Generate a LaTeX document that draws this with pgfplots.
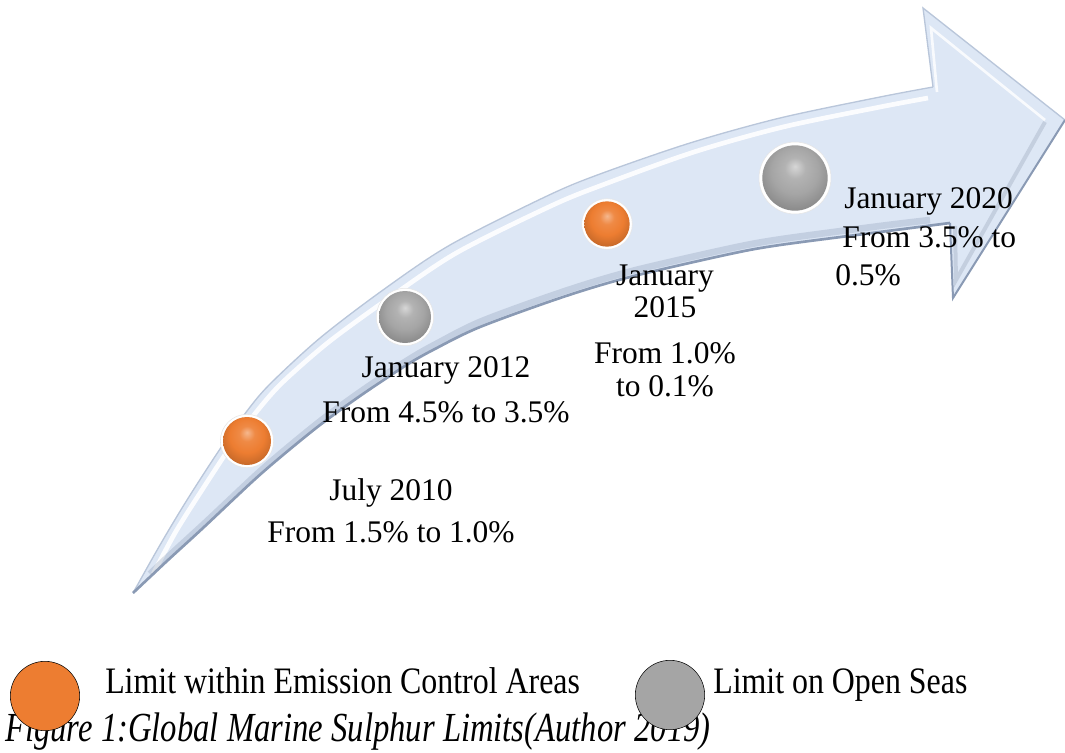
\documentclass[border=0pt]{standalone}
\usepackage{pgfplots}
\pgfplotsset{compat=1.18}
\usepackage{fontspec}
\setmainfont{Liberation Serif}
\definecolor{arrowfill}{RGB}{221,231,245}
\definecolor{edgedark}{RGB}{138,154,180}
\definecolor{edgelight}{RGB}{185,198,218}
\definecolor{orangeC}{HTML}{ED7D31}
\definecolor{grayC}{HTML}{A5A5A5}
\pgfdeclareradialshading{oballshade}{\pgfqpoint{0bp}{9bp}}{%
  color(0bp)=(orangeC!55!white); color(8bp)=(orangeC!90!white); color(18bp)=(orangeC);
  color(28bp)=(orangeC!85!black); color(36bp)=(orangeC!70!black); color(50bp)=(orangeC!60!black)}
\pgfdeclareradialshading{gballshade}{\pgfqpoint{0bp}{9bp}}{%
  color(0bp)=(grayC!45!white); color(8bp)=(grayC!85!white); color(18bp)=(grayC);
  color(28bp)=(grayC!85!black); color(36bp)=(grayC!70!black); color(50bp)=(grayC!60!black)}
\pgfdeclareplotmark{oball}{\pgfpathcircle{\pgfpointorigin}{\pgfplotmarksize}\pgfshadepath{oballshade}{0}\pgfusepath{}}
\pgfdeclareplotmark{gball}{\pgfpathcircle{\pgfpointorigin}{\pgfplotmarksize}\pgfshadepath{gballshade}{0}\pgfusepath{}}
\newcommand{\mainfs}{\fontsize{23.6pt}{26pt}\selectfont}
\newcommand{\legfs}[1]{\scalebox{0.854}[1]{\fontsize{28pt}{30pt}\selectfont #1}}
\newcommand{\capfs}[1]{\scalebox{0.79}[1]{\fontsize{31pt}{33pt}\selectfont\itshape #1}}
\begin{document}
\begin{tikzpicture}
\begin{axis}[width=798.75pt, height=564.75pt, scale only axis, hide axis,
  xmin=0, xmax=1065, ymin=0, ymax=753, y dir=reverse, clip=false]
\coordinate (bl) at (rel axis cs:0,0);
\coordinate (tr) at (rel axis cs:1,1);
% shaft of the arrow
\addplot[fill=arrowfill, draw=none] coordinates {
 (133,593) (146,569) (160,545) (173,522) (187,500) (203,474) (220,449) (233,430) (247,411)
 (258,397) (270,384) (295,360) (320,338) (350,314) (383,290) (415,268) (450,245) (500,219)
 (547,196) (600,174) (645,158) (690,143) (735,130) (780,118) (830,107) (880,97) (925,89)
 (925,227) (880,232) (830,238) (780,245) (730,254) (680,265) (630,277) (563,297) (520,311)
 (480,327) (455,338) (433,350) (405,366) (380,380) (360,396) (340,410) (320,425) (300,440)
 (283,455) (268,468) (253,481) (228,504) (203,528) (185,544) (167,561) (150,577) (133,593)};
% head of the arrow
\addplot[fill=arrowfill, draw=none] coordinates {
 (915,91) (933,87) (923,8) (1065,120) (953,298) (950,223) (915,228)} -- cycle;
% head bevel
\addplot[draw=white, line width=2pt, opacity=0.8] coordinates {(937,92) (931,28) (1045,120)};
\addplot[draw=edgedark!70, line width=3pt, opacity=0.5] coordinates {(1045,122) (956,280) (955,226)};
% upper highlight
\addplot[smooth, draw=white, line width=3.5pt, opacity=0.9] coordinates {
 (150,580) (175,533) (202,490) (235,440) (262,405) (285,380) (330,341) (392,296)
 (458,252) (553,205) (605,184) (694,152) (783,127) (880,107) (928,98)};
% lower shadow band
\addplot[smooth, draw=edgedark, line width=5pt, opacity=0.3] coordinates {
 (150,574) (170,555) (206,522) (256,475) (286,449) (323,419) (363,390) (408,360)
 (436,344) (482,321) (565,291) (632,271) (732,248) (782,239) (880,226) (930,220)};
% outlines
\addplot[smooth, draw=edgelight, line width=1pt] coordinates {
 (133,593) (160,545) (187,500) (220,449) (247,411) (270,384) (320,338) (383,290)
 (450,245) (547,196) (600,174) (690,143) (780,118) (880,97) (933,87)};
\addplot[draw=edgelight, line width=1pt] coordinates {(933,87) (923,8) (1065,120)};
\addplot[smooth, draw=edgedark, line width=2pt] coordinates {
 (133,593) (167,561) (203,528) (253,481) (283,455) (320,425) (360,396) (405,366)
 (433,350) (480,327) (563,297) (630,277) (730,254) (780,245) (880,232) (950,223)};
\addplot[draw=edgedark, line width=1.5pt] coordinates {(1065,120) (953,298) (950,223)};
% balls (white rim, then shaded ball)
\addplot[only marks, mark=*, mark size=20pt, mark options={fill=white, draw=black!10}] coordinates {(247,441)};
\addplot[only marks, mark=oball, mark size=18pt] coordinates {(247,441)};
\addplot[only marks, mark=*, mark size=21.5pt, mark options={fill=white, draw=black!10}] coordinates {(405,317)};
\addplot[only marks, mark=gball, mark size=19.5pt] coordinates {(405,317)};
\addplot[only marks, mark=*, mark size=19pt, mark options={fill=white, draw=black!10}] coordinates {(607,224)};
\addplot[only marks, mark=oball, mark size=17pt] coordinates {(607,224)};
\addplot[only marks, mark=*, mark size=27pt, mark options={fill=white, draw=black!10}] coordinates {(795,178)};
\addplot[only marks, mark=gball, mark size=24.5pt] coordinates {(795,178)};
% legend markers
\addplot[only marks, mark=*, mark size=26pt, mark options={fill=orangeC, draw=none}] coordinates {(45,696)};
\addplot[only marks, mark=*, mark size=26pt, mark options={fill=grayC, draw=none}] coordinates {(670,695)};
% texts
\node[anchor=base, font=\mainfs, inner sep=0pt] at (axis cs:391,500) {July 2010};
\node[anchor=base, font=\mainfs, inner sep=0pt] at (axis cs:391,542) {From 1.5\% to 1.0\%};
\node[anchor=base, font=\mainfs, inner sep=0pt] at (axis cs:446,377) {January 2012};
\node[anchor=base, font=\mainfs, inner sep=0pt] at (axis cs:446,422) {From 4.5\% to 3.5\%};
\node[anchor=base, font=\mainfs, inner sep=0pt] at (axis cs:665,285) {January};
\node[anchor=base, font=\mainfs, inner sep=0pt] at (axis cs:665,317) {2015};
\node[anchor=base, font=\mainfs, inner sep=0pt] at (axis cs:665,363) {From 1.0\%};
\node[anchor=base, font=\mainfs, inner sep=0pt] at (axis cs:665,396) {to 0.1\%};
\node[anchor=base west, font=\mainfs, inner sep=0pt] at (axis cs:844,208) {January 2020};
\node[anchor=base west, font=\mainfs, inner sep=0pt] at (axis cs:842,247) {From 3.5\% to};
\node[anchor=base west, font=\mainfs, inner sep=0pt] at (axis cs:835,285) {0.5\%};
\node[anchor=base west, inner sep=0pt] at (axis cs:105,693) {\legfs{Limit within Emission Control Areas}};
\node[anchor=base west, inner sep=0pt] at (axis cs:713,693) {\legfs{Limit on Open Seas}};
\node[anchor=base west, inner sep=0pt] at (axis cs:5,741) {\capfs{Figure 1:Global Marine Sulphur Limits(Author 2019)}};
\end{axis}
\pgfresetboundingbox
\path[use as bounding box] (bl) rectangle (tr);
\end{tikzpicture}
\end{document}
